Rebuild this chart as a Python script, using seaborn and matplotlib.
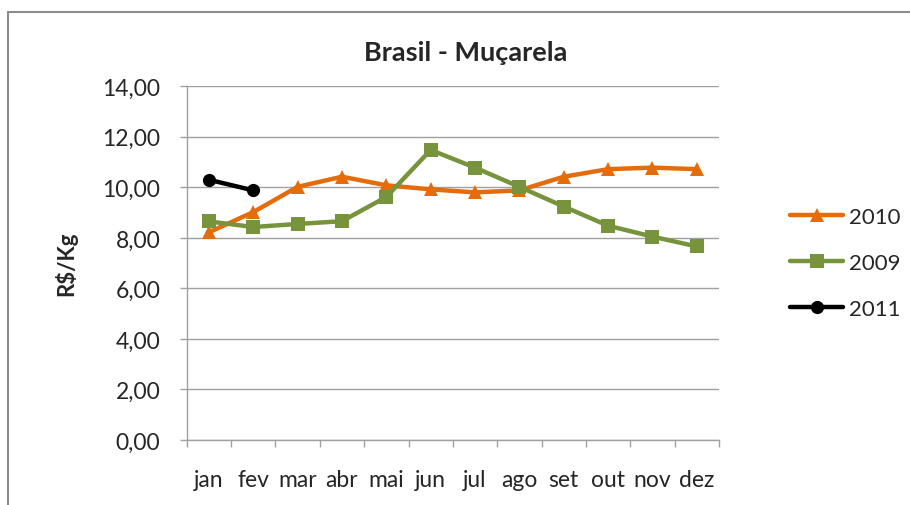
import numpy as np
import pandas as pd
import matplotlib
matplotlib.use("Agg")
import matplotlib.pyplot as plt
import seaborn as sns

# monthly mozzarella prices (R$/Kg)
months = ["jan", "fev", "mar", "abr", "mai", "jun", "jul", "ago", "set", "out", "nov", "dez"]
p2010 = [8.22, 9.02, 10.02, 10.42, 10.08, 9.92, 9.80, 9.88, 10.42, 10.72, 10.78, 10.72]
p2009 = [8.65, 8.43, 8.55, 8.66, 9.62, 11.48, 10.78, 10.02, 9.24, 8.48, 8.05, 7.66]
p2011 = [10.30, 9.88]
yticks = [0, 2, 4, 6, 8, 10, 12, 14]

sns.set_style("white")
plt.rcParams["font.family"] = ["Lato", "DejaVu Sans"]

fig = plt.figure(figsize=(9.1, 5.06), dpi=100)
ax = fig.add_axes([0.2052, 0.1285, 0.5849, 0.6990])

series = [
    ("2010", p2010, "#E46C0A", "^", 10.5),
    ("2009", p2009, "#77933C", "s", 9.5),
    ("2011", p2011, "black", "o", 9.5),
]
for name, vals, col, mk, ms in series:
    df = pd.DataFrame({"mes": months[:len(vals)], "preco": vals})
    sns.lineplot(data=df, x="mes", y="preco", ax=ax, color=col, marker=mk,
                 markersize=ms, markeredgewidth=0, linewidth=3.2, label=name,
                 sort=False)

ax.set_xlim(-0.5, 11.5)
ax.set_ylim(0, 14)
ax.set_yticks(yticks)
ax.set_yticklabels([f"{v:.2f}".replace(".", ",") for v in yticks], fontsize=16.5)
ax.set_xticks(np.arange(-0.5, 12, 1))
ax.set_xticklabels([])
ax.set_xticks(np.arange(12), minor=True)
ax.set_xticklabels(months, minor=True, fontsize=16.5)
ax.tick_params(axis="x", which="major", direction="out", length=5, width=1,
               color="#A0A0A0", bottom=True)
ax.tick_params(axis="x", which="minor", length=0, pad=21)
ax.tick_params(axis="y", direction="out", length=5, width=1, color="#A0A0A0",
               left=True, pad=14)

ax.grid(axis="y", color="#A0A0A0", linewidth=1)
ax.set_axisbelow(True)
for s in ["top", "right"]:
    ax.spines[s].set_visible(False)
for s in ["left", "bottom"]:
    ax.spines[s].set_color("#A0A0A0")
    ax.spines[s].set_linewidth(1)

ax.set_xlabel("")
ax.set_ylabel("R$/Kg", fontsize=16, fontweight="bold", labelpad=18)

fig.text(466 / 910, 1 - 53 / 506, "Brasil - Muçarela", ha="center", va="center",
         fontsize=19.5, fontweight="bold")

ax.legend_.remove()
handles, labels = ax.get_legend_handles_labels()
fig.legend(handles, labels, loc="center left", bbox_to_anchor=(790 / 910, 1 - 264 / 506),
           frameon=False, fontsize=16, handlelength=2.4, handletextpad=0.25,
           labelspacing=1.18, borderpad=0, borderaxespad=0)

# chart frame (partly cut at the right/bottom like the reference)
fig.add_artist(plt.Line2D([8 / 910, 8 / 910], [0, 1 - 13 / 506], color="#8C8C8C",
                          linewidth=1.5, transform=fig.transFigure))
fig.add_artist(plt.Line2D([8 / 910, 1], [1 - 13 / 506, 1 - 13 / 506], color="#8C8C8C",
                          linewidth=1.5, transform=fig.transFigure))

fig.savefig("out.png", dpi=100)
